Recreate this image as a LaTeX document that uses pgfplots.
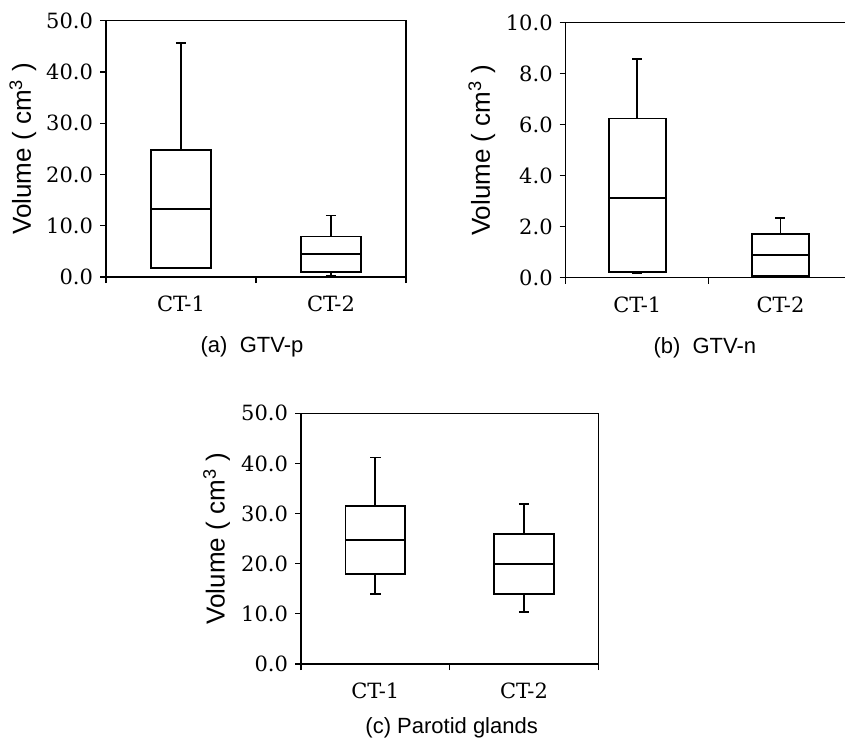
\documentclass[border=0pt]{standalone}
\usepackage{pgfplots}
\pgfplotsset{compat=1.18}
\usepgfplotslibrary{statistics}
\usepackage{fontspec}
\setmainfont{DejaVu Serif}
\setsansfont{Liberation Sans}

\newcommand{\lblfont}{\fontsize{10.5}{12}\selectfont}
\newcommand{\capfont}{\fontsize{11}{13}\selectfont}

\pgfplotsset{
  vol/.style={
    scale only axis, anchor=south west, clip=false,
    xmin=0, xmax=2, xtick={0,1,2}, xticklabels={CT-1,CT-2}, x tick label as interval,
    ymin=0,
    tick align=outside, xtick pos=bottom, ytick pos=left,
    major tick length=3pt,
    axis line style={line width=0.6pt},
    every tick/.style={black, line width=0.6pt},
    tick label style={font=\lblfont},
    xticklabel style={yshift=-3pt},
    yticklabel style={/pgf/number format/.cd, fixed, fixed zerofill, precision=1, assume math mode=true},
    ylabel={\sffamily\fontsize{13}{15}\selectfont Volume ( cm\textsuperscript{3} )},
  },
  bx/.style={black, line width=0.9pt, solid, mark=none, boxplot/draw direction=y},
}

\begin{document}
\begin{tikzpicture}

% (a) GTV-p
\begin{axis}[vol, at={(53pt,-138.5pt)}, width=150pt, height=128.15pt,
  ymax=50, ytick distance=10,
  ylabel style={at={(axis description cs:-0.277,0.5)}, anchor=center}]
  \addplot[bx, boxplot prepared={draw position=0.5, median=13.3, upper quartile=24.8,
    lower quartile=1.75, upper whisker=45.6, lower whisker=1.7, box extend=0.4, whisker extend=0.07}] coordinates {};
  \addplot[bx, boxplot prepared={draw position=1.5, median=4.5, upper quartile=7.9,
    lower quartile=1.0, upper whisker=12.0, lower whisker=0.2, box extend=0.4, whisker extend=0.07}] coordinates {};
  \node[font=\sffamily\capfont] at (rel axis cs:0.5,0) [yshift=-35pt, xshift=-2pt] {(a)\ \ GTV-p};
\end{axis}

% (b) GTV-n: its right frame line falls outside the picture
\begin{axis}[vol, at={(282.85pt,-138.85pt)}, width=143.15pt, height=127.5pt,
  axis lines*=left, xtick pos=bottom, ytick pos=left,
  ymax=10, ytick distance=2,
  ylabel style={at={(axis description cs:-0.293,0.5)}, anchor=center}]
  \addplot[bx, boxplot prepared={draw position=0.5, median=3.12, upper quartile=6.24,
    lower quartile=0.21, upper whisker=8.58, lower whisker=0.2, box extend=0.4, whisker extend=0.07}] coordinates {};
  \addplot[bx, boxplot prepared={draw position=1.5, median=0.89, upper quartile=1.70,
    lower quartile=0.08, upper whisker=2.33, lower whisker=0.04, box extend=0.4, whisker extend=0.07}] coordinates {};
  \draw[line width=0.6pt] (rel axis cs:0,1) -- (rel axis cs:1,1);
  \node[font=\sffamily\capfont] at (rel axis cs:0.5,0) [yshift=-35pt, xshift=-2pt] {(b)\ \ GTV-n};
\end{axis}

% (c) Parotid glands
\begin{axis}[vol, at={(150.5pt,-332pt)}, width=148.65pt, height=125.35pt,
  ymax=50, ytick distance=10,
  ylabel style={at={(axis description cs:-0.284,0.5)}, anchor=center}]
  \addplot[bx, boxplot prepared={draw position=0.5, median=24.7, upper quartile=31.5,
    lower quartile=17.9, upper whisker=41.2, lower whisker=14.0, box extend=0.4, whisker extend=0.07}] coordinates {};
  \addplot[bx, boxplot prepared={draw position=1.5, median=20.0, upper quartile=26.0,
    lower quartile=14.0, upper whisker=31.9, lower whisker=10.3, box extend=0.4, whisker extend=0.07}] coordinates {};
  \node[font=\sffamily\capfont] at (rel axis cs:0.5,0) [yshift=-32pt, xshift=1pt] {(c) Parotid glands};
\end{axis}

\pgfresetboundingbox
\path[use as bounding box] (0pt,0pt) rectangle (422.5pt,-370.5pt);
\end{tikzpicture}
\end{document}
